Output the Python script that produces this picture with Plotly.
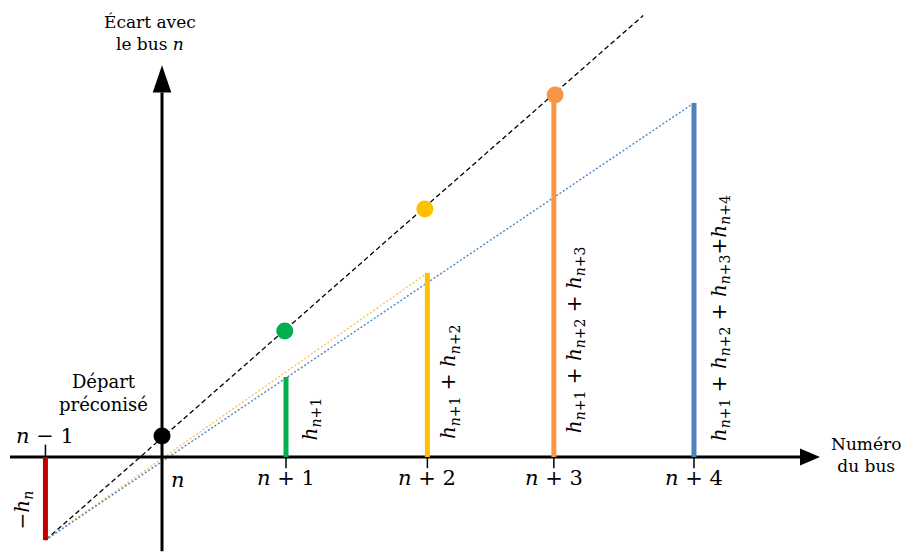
import plotly.graph_objects as go

# ---- data (diagram units: 1 unit = spacing n -> n+1) ----
bus_labels = ["<i>n</i> − 1", "<i>n</i>", "<i>n</i> + 1", "<i>n</i> + 2", "<i>n</i> + 3", "<i>n</i> + 4"]
bus_x = [-0.94, 0.0, 1.0, 2.14, 3.16, 4.29]

bar_x = [-0.94, 1.0, 2.14, 3.16, 4.29]
bar_height = [-0.67, 0.645, 1.484, 2.92, 2.855]
bar_colors = ["#C00000", "#00B050", "#FFC000", "#F79646", "#4F81BD"]
bar_texts = [
    "−<i>h</i><sub><i>n</i></sub>",
    "<i>h</i><sub><i>n</i>+1</sub>",
    "<i>h</i><sub><i>n</i>+1</sub> + <i>h</i><sub><i>n</i>+2</sub>",
    "<i>h</i><sub><i>n</i>+1</sub> + <i>h</i><sub><i>n</i>+2</sub> + <i>h</i><sub><i>n</i>+3</sub>",
    "<i>h</i><sub><i>n</i>+1</sub> + <i>h</i><sub><i>n</i>+2</sub> + <i>h</i><sub><i>n</i>+3</sub>+<i>h</i><sub><i>n</i>+4</sub>",
]

dot_x = [0.0, 0.99, 2.12, 3.17]
dot_y = [0.17, 1.016, 2.0, 2.92]
dot_colors = ["#000000", "#00B050", "#FFC000", "#F79646"]

ideal_x = [-0.94, 3.88]
ideal_y = [-0.67, 3.56]

FONT = "DejaVu Serif"

fig = go.Figure()

# reference (ideal) dashed line
fig.add_trace(go.Scatter(x=ideal_x, y=ideal_y, mode="lines",
                         line=dict(color="black", width=1.3, dash="5px,3px"),
                         hoverinfo="skip"))
# dotted lines from the n-1 bar bottom to the n+2 and n+4 bar tops
fig.add_trace(go.Scatter(x=[bar_x[0], bar_x[2]], y=[bar_height[0], bar_height[2]], mode="lines",
                         line=dict(color="#F8C55C", width=1.4, dash="2px,2px"), hoverinfo="skip"))
fig.add_trace(go.Scatter(x=[bar_x[0], bar_x[4]], y=[bar_height[0], bar_height[4]], mode="lines",
                         line=dict(color="#4A86C8", width=1.4, dash="2px,2px"), hoverinfo="skip"))

# axes
X0, X1, XT = -1.226, 5.145, 5.306
Y0, Y1, YT = -0.76, 2.94, 3.16
fig.add_trace(go.Scatter(x=[X0, X1], y=[0, 0], mode="lines",
                         line=dict(color="black", width=3), hoverinfo="skip"))
fig.add_trace(go.Scatter(x=[0, 0], y=[Y0, Y1], mode="lines",
                         line=dict(color="black", width=3), hoverinfo="skip"))
fig.add_shape(type="path", path=f"M {X1} -0.068 L {XT} 0 L {X1} 0.068 Z",
              fillcolor="black", line=dict(color="black", width=0))
fig.add_shape(type="path", path=f"M -0.075 {Y1} L 0 {YT} L 0.075 {Y1} Z",
              fillcolor="black", line=dict(color="black", width=0))

# tick marks
for i, bx in enumerate(bus_x):
    if i == 1:
        continue
    y_end = 0.1 if i == 0 else -0.09
    fig.add_trace(go.Scatter(x=[bx, bx], y=[0, y_end], mode="lines",
                             line=dict(color="black", width=1.5), hoverinfo="skip"))

# bars
for bx, bh, bc in zip(bar_x, bar_height, bar_colors):
    fig.add_trace(go.Scatter(x=[bx, bx], y=[0, bh], mode="lines",
                             line=dict(color=bc, width=5), hoverinfo="skip"))

# dots
fig.add_trace(go.Scatter(x=dot_x, y=dot_y, mode="markers",
                         marker=dict(color=dot_colors, size=17, line=dict(width=0)),
                         hoverinfo="skip"))

# tick labels
for i, (bx, lab) in enumerate(zip(bus_x, bus_labels)):
    if i == 0:
        fig.add_annotation(x=bx, y=0.17, text=lab, showarrow=False,
                           font=dict(family=FONT, size=21, color="black"))
    elif i == 1:
        fig.add_annotation(x=bx + 0.13, y=-0.185, text=lab, showarrow=False,
                           font=dict(family=FONT, size=21, color="black"))
    else:
        fig.add_annotation(x=bx, y=-0.17, text=lab, showarrow=False,
                           font=dict(family=FONT, size=21, color="black"))

# bar labels (rotated)
label_dx = [-0.18, 0.2, 0.18, 0.17, 0.21]
label_y = [-0.43, 0.31, 0.61, 0.95, 1.12]
for bx, dx, ly, t in zip(bar_x, label_dx, label_y, bar_texts):
    fig.add_annotation(x=bx + dx, y=ly, text=t, showarrow=False, textangle=-90,
                       font=dict(family=FONT, size=20, color="black"))

# axis titles and annotation
fig.add_annotation(x=-0.1, y=3.42, text="Écart avec<br>le bus <i>n</i>", showarrow=False,
                   font=dict(family=FONT, size=17, color="black"))
fig.add_annotation(x=5.68, y=0.02, text="Numéro<br>du bus", showarrow=False,
                   font=dict(family=FONT, size=17, color="black"))
fig.add_annotation(x=-0.47, y=0.52, text="Départ<br>préconisé", showarrow=False,
                   font=dict(family=FONT, size=18, color="black"))

# the page body adds an 8px offset, so the figure is 8px smaller than the window
fig.update_layout(
    width=901, height=545,
    margin=dict(l=0, r=0, t=0, b=0),
    plot_bgcolor="white", paper_bgcolor="white",
    showlegend=False,
    xaxis=dict(range=[-1.242, 6.024], visible=False, fixedrange=True),
    yaxis=dict(range=[-0.774, 3.621], visible=False, fixedrange=True),
)

fig.write_html("out.html")
